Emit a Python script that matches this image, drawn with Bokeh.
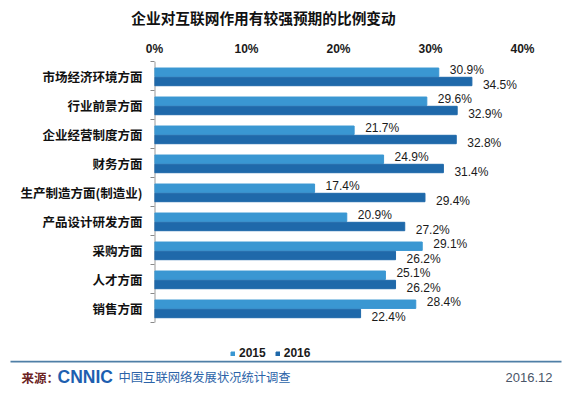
from bokeh.plotting import figure
from bokeh.models import (Range1d, FixedTicker, PrintfTickFormatter, Legend,
                          LegendItem, ColumnDataSource)
from bokeh.transform import dodge
from bokeh.embed import file_html
from bokeh.resources import INLINE
from bokeh.core.properties import value

# ---- data ----
title_text = "企业对互联网作用有较强预期的比例变动"
categories = ["市场经济环境方面", "行业前景方面", "企业经营制度方面", "财务方面",
              "生产制造方面(制造业)", "产品设计研发方面", "采购方面", "人才方面", "销售方面"]
series = ["2015", "2016"]
v2015 = [30.9, 29.6, 21.7, 24.9, 17.4, 20.9, 29.1, 25.1, 28.4]
v2016 = [34.5, 32.9, 32.8, 31.4, 29.4, 27.2, 26.2, 26.2, 22.4]
x_ticks = [0, 10, 20, 30, 40]
source_label = "来源："
logo_text = "CNNIC"
survey_text = "中国互联网络发展状况统计调查"
date_text = "2016.12"

c2015 = "#3a97d2"
c2016 = "#1f69aa"

n = len(categories)
ypos = [i + 0.5 for i in range(n)]
src = ColumnDataSource(dict(
    y=ypos, a=v2015, b=v2016,
    la=[f"{v:.1f}%" for v in v2015],
    lb=[f"{v:.1f}%" for v in v2016],
))

W = 566


def strip(h):
    f = figure(width=W, height=h, x_range=Range1d(0, W), y_range=Range1d(h, 0),
               output_backend="svg", toolbar_location=None, min_border=0,
               min_border_left=0, min_border_right=0, min_border_top=0, min_border_bottom=0,
               x_axis_location=None, y_axis_location=None)
    f.outline_line_color = None
    for g in f.grid:
        g.visible = False
    f.border_fill_color = "white"
    f.background_fill_color = "white"
    return f


# ---- title strip ----
TH = 30
t = strip(TH)
t.text(x=[263], y=[16.7], text=[title_text], text_align="center", text_baseline="middle",
       text_font=value("Noto Sans CJK SC"), text_font_style="bold", text_font_size="14.7px",
       text_color="#111111")

# ---- main chart ----
H = 330
top_px, cat_bottom_px = 31, 292
y_end = n * (H - top_px) / (cat_bottom_px - top_px)   # room below the bars for the legend

p = figure(width=W, height=H,
           x_range=Range1d(0, 40), y_range=Range1d(y_end, 0),
           x_axis_location="above",
           output_backend="svg", toolbar_location=None,
           min_border_left=154, min_border_right=44,
           min_border_top=top_px, min_border_bottom=0)
p.outline_line_color = None
p.grid.visible = False
p.background_fill_color = "white"
p.border_fill_color = "white"

# x axis on top
xa = p.xaxis[0]
xa.ticker = FixedTicker(ticks=x_ticks)
xa.formatter = PrintfTickFormatter(format="%d%%")
xa.axis_line_color = None
xa.major_tick_line_color = None
xa.minor_tick_line_color = None
xa.major_tick_out = 0
xa.major_label_standoff = 6
xa.major_label_text_font = "Liberation Sans"
xa.major_label_text_font_style = "bold"
xa.major_label_text_font_size = "12px"
xa.major_label_text_color = "#1a1a1a"

# y axis with category names; separators as minor ticks
ya = p.yaxis[0]
ya.ticker = FixedTicker(ticks=ypos, minor_ticks=list(range(n + 1)))
ya.major_label_overrides = {y: c for y, c in zip(ypos, categories)}
ya.major_tick_line_color = None
ya.major_tick_out = 0
ya.major_tick_in = 0
ya.minor_tick_out = 4
ya.minor_tick_in = 0
ya.minor_tick_line_color = "#8a8a8a"
ya.axis_line_color = None
ya.major_label_standoff = 8
ya.major_label_text_font = "Noto Sans CJK SC"
ya.major_label_text_font_style = "bold"
ya.major_label_text_font_size = "12.5px"
ya.major_label_text_color = "#111111"

# category axis line (only along the categories)
p.segment(x0=[0], y0=[0], x1=[0], y1=[n], line_color="#9a9a9a", line_width=2)

r15 = p.hbar(y=dodge("y", -0.13, range=p.y_range), left=0, right="a", height=0.29,
             source=src, fill_color=c2015, line_color=c2015)
r16 = p.hbar(y=dodge("y", 0.19, range=p.y_range), left=0, right="b", height=0.29,
             source=src, fill_color=c2016, line_color=c2016)

p.text(x="a", y=dodge("y", -0.13, range=p.y_range), text="la", source=src,
       x_offset=11, y_offset=-2, text_align="left", text_baseline="middle",
       text_font=value("Liberation Sans"), text_font_size="12px", text_color="#1a1a1a")
p.text(x="b", y=dodge("y", 0.19, range=p.y_range), text="lb", source=src,
       x_offset=11, y_offset=3, text_align="left", text_baseline="middle",
       text_font=value("Liberation Sans"), text_font_size="12px", text_color="#1a1a1a")

legend = Legend(items=[LegendItem(label=series[0], renderers=[r15]),
                       LegendItem(label=series[1], renderers=[r16])],
                orientation="horizontal", location=(76, 0))
legend.label_text_font = "Liberation Sans"
legend.label_text_font_style = "bold"
legend.label_text_font_size = "12px"
legend.label_text_color = "#1a1a1a"
legend.glyph_width = 5
legend.glyph_height = 5
legend.label_standoff = 4
legend.spacing = 9
legend.padding = 0
legend.margin = 0
legend.label_height = 12
legend.border_line_color = None
legend.background_fill_alpha = 0
p.add_layout(legend)

# ---- footer ----
FH = 35
f = strip(FH)
f.segment(x0=[10], y0=[1], x1=[561], y1=[1], line_color="#4f7fa6", line_width=2)
ty = 16.7
f.text(x=[21], y=[ty], text=[source_label], text_align="left", text_baseline="middle",
       text_font=value("Noto Sans CJK SC"), text_font_style="bold", text_font_size="12.5px",
       text_color="#6b2323")
f.text(x=[57], y=[ty], text=[logo_text], text_align="left", text_baseline="middle",
       text_font=value("Liberation Sans"), text_font_style="bold", text_font_size="17.5px",
       text_color="#1d5fb0")
f.text(x=[118], y=[ty], text=[survey_text], text_align="left", text_baseline="middle",
       text_font=value("Noto Sans CJK SC"), text_font_size="12.3px", text_color="#2b63a8")
f.text(x=[552], y=[ty], text=[date_text], text_align="right", text_baseline="middle",
       text_font=value("Liberation Sans"), text_font_size="13px", text_color="#4a5568")

open("out.html", "w").write(file_html([t, p, f], INLINE))
